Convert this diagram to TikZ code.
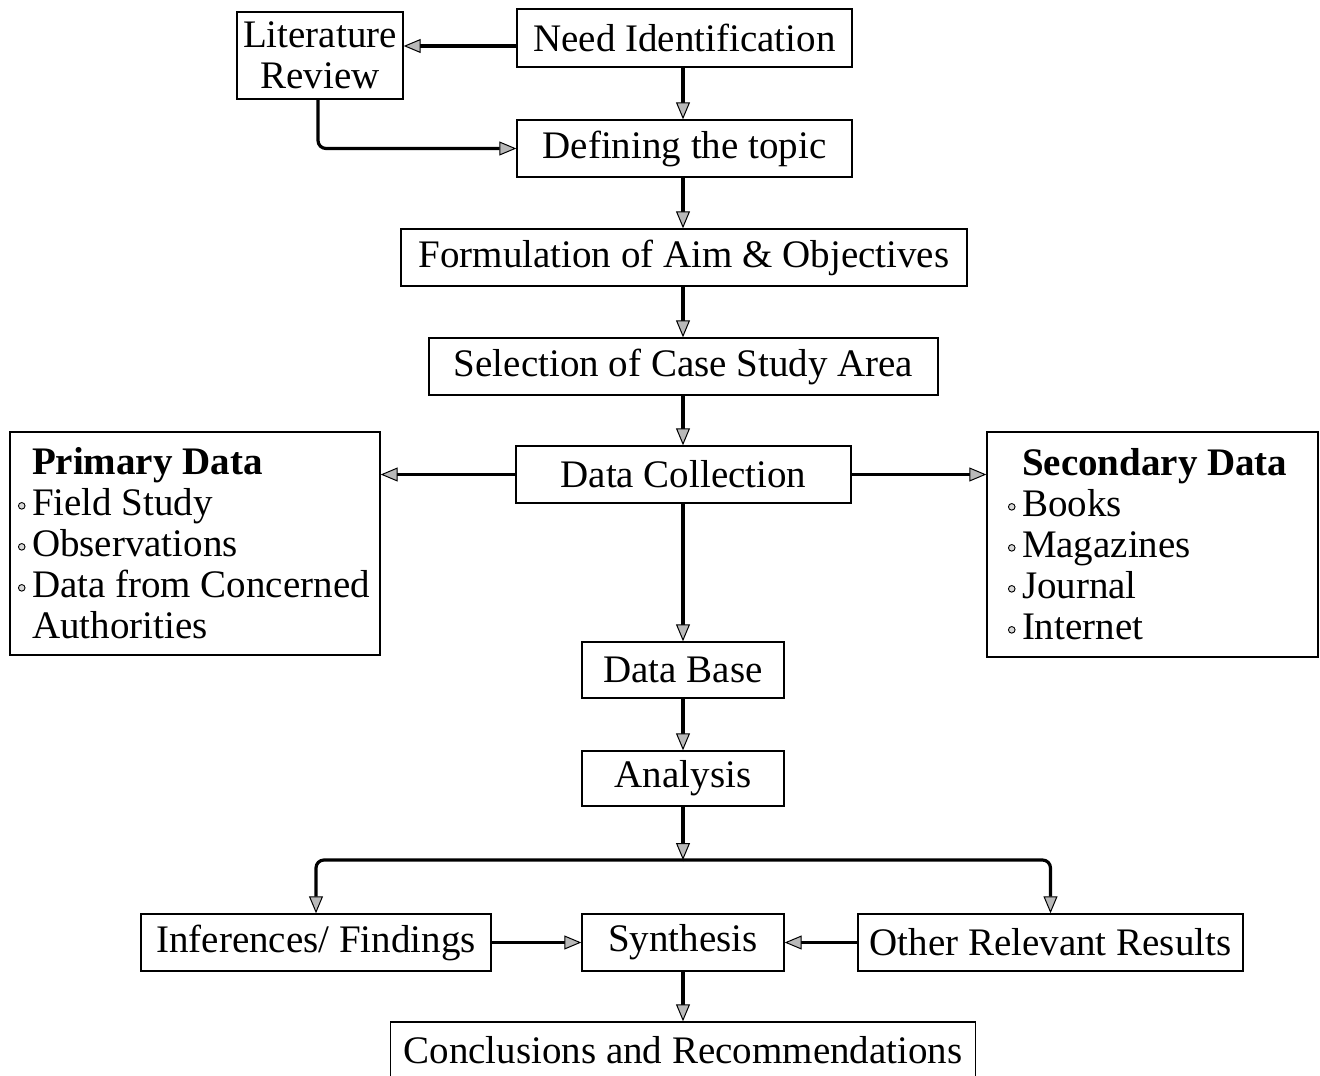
\documentclass[tikz,border=0pt]{standalone}
\usepackage{fontspec}
\setmainfont{Liberation Serif}
\usetikzlibrary{arrows.meta,calc}
\newcommand{\bul}{\makebox[14pt][l]{\tikz[baseline=0pt]\draw[line width=0.9pt,fill=gray!30] (3.5pt,10pt) circle[radius=3.3pt];}}
\tikzset{
  box/.style={draw, line width=1.4pt, rectangle, inner sep=0pt, align=center,
    font=\fontsize{39}{41}\selectfont},
  arr/.style={line width=3.2pt, -{Triangle[length=17pt,width=14pt,fill=gray!55,line width=1pt]}},
}
\begin{document}
\begin{tikzpicture}[x=1pt,y=-1pt]
\useasboundingbox[fill=white] (0,0) rectangle (1320,1076);
% nodes
\node[box, minimum width=166pt, minimum height=87pt] (lit) at (320,55.5) {Literature\\Review};
\node[box, minimum width=335pt, minimum height=58pt] (need) at (684.5,38) {Need Identification};
\node[box, minimum width=335pt, minimum height=57pt] (def) at (684.5,148.5) {Defining the topic};
\node[box, minimum width=566pt, minimum height=57pt] (form) at (684,257.5) {Formulation of Aim \& Objectives};
\node[box, minimum width=509pt, minimum height=57pt] (sel) at (683.5,366.5) {Selection of Case Study Area};
\node[box, minimum width=335pt, minimum height=57pt] (dc) at (683.5,474.5) {Data Collection};
\node[box, minimum width=370pt, minimum height=223pt, align=flush left, inner xsep=8pt, text width=354pt] (prim) at (195,543.5)
  {\hspace*{14pt}\textbf{Primary Data}\\\bul Field Study\\\bul Observations\\\bul Data from Concerned\\\hspace*{14pt}Authorities};
\node[box, minimum width=331pt, minimum height=225pt, align=flush left, inner xsep=21pt, text width=289pt] (sec) at (1152.5,544.5)
  {\hspace*{14pt}\textbf{Secondary Data}\\\bul Books\\\bul Magazines\\\bul Journal\\\bul Internet};
\node[box, minimum width=202pt, minimum height=56pt] (db) at (683,670) {Data Base};
\node[box, minimum width=202pt, minimum height=55pt] (an) at (683,778.5) {Analysis};
\coordinate (jn) at (683,860);
\node[box, minimum width=350pt, minimum height=57pt] (inf) at (316,942.5) {Inferences/ Findings};
\node[box, minimum width=202pt, minimum height=57pt] (syn) at (683,942.5) {Synthesis};
\node[box, minimum width=385pt, minimum height=57pt] (oth) at (1050.5,942.5) {Other Relevant Results};
\node[box, minimum width=585pt, minimum height=57pt] (conc) at (683,1050.5) {Conclusions and Recommendations};
% connectors
\draw[arr] ([yshift=-8pt]need.west) -- ([yshift=-8pt]need.west -| lit.east);
\draw[arr, rounded corners=8pt] ([xshift=-2pt]lit.south) |- (def.west);
\draw[arr] (need.south -| 683,0) -- (def.north -| 683,0);
\draw[arr] (def.south -| 683,0) -- (form.north -| 683,0);
\draw[arr] (form.south -| 683,0) -- (sel.north -| 683,0);
\draw[arr] (sel.south -| 683,0) -- (dc.north -| 683,0);
\draw[arr] (dc.west) -- (dc.west -| prim.east);
\draw[arr] (dc.east) -- (dc.east -| sec.west);
\draw[arr] (dc.south -| 683,0) -- (db.north);
\draw[arr] (db.south) -- (an.north);
\draw[arr] (an.south) -- (jn);
\draw[arr, rounded corners=8pt] (jn) -| (inf.north);
\draw[arr, rounded corners=8pt] (jn) -| (oth.north);
\draw[arr] (inf.east) -- (syn.west);
\draw[arr] (oth.west) -- (syn.east);
\draw[arr] (syn.south) -- (conc.north);
\end{tikzpicture}
\end{document}
